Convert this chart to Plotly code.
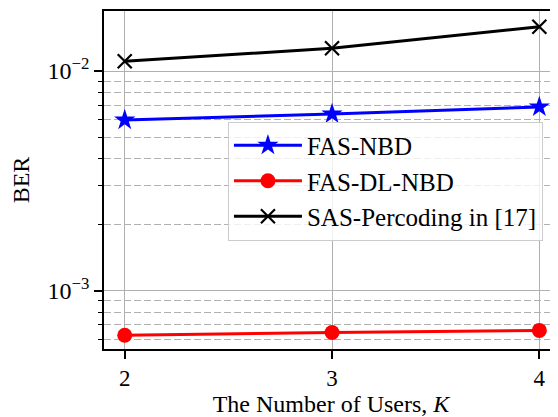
import plotly.graph_objects as go

users = [2, 3, 4]
fas_nbd = [0.00598, 0.00637, 0.00686]
fas_dl_nbd = [0.000627, 0.000646, 0.00066]
sas_precoding = [0.01107, 0.01269, 0.0159]
names = ["FAS-NBD", "FAS-DL-NBD", "SAS-Percoding in [17]"]

major_y = [1e-3, 1e-2]
major_y_text = ["10<sup>−3</sup>", "10<sup>−2</sup>"]
minor_y = [6e-4, 7e-4, 8e-4, 9e-4, 2e-3, 3e-3, 4e-3, 5e-3, 6e-3, 7e-3, 8e-3, 9e-3]

FONT = "Liberation Serif"

fig = go.Figure()
fig.add_trace(go.Scatter(x=users, y=fas_nbd, name=names[0], mode="lines+markers",
                         line=dict(color="#0000ff", width=3),
                         marker=dict(symbol="star", size=16, color="#0000ff")))
fig.add_trace(go.Scatter(x=users, y=fas_dl_nbd, name=names[1], mode="lines+markers",
                         line=dict(color="#ff0000", width=3),
                         marker=dict(symbol="circle", size=15, color="#ff0000")))
fig.add_trace(go.Scatter(x=users, y=sas_precoding, name=names[2], mode="lines+markers",
                         line=dict(color="#000000", width=3),
                         marker=dict(symbol="x-thin", size=14, color="#000000",
                                     line=dict(color="#000000", width=2.2))))

# the page body adds an 8px offset; margins compensate for it
fig.update_layout(
    width=558, height=417,
    margin=dict(l=96, r=8, t=3, b=76, autoexpand=False),
    paper_bgcolor="white", plot_bgcolor="white",
    font=dict(family=FONT, size=22, color="black"),
    showlegend=True,
    legend=dict(x=0.273, y=0.673, xanchor="left", yanchor="top",
                bgcolor="rgba(255,255,255,0.8)", bordercolor="#cccccc", borderwidth=1,
                font=dict(family=FONT, size=25, color="black"),
                itemwidth=68, tracegroupgap=0),
)
fig.update_xaxes(
    range=[1.9, 4.09], tickvals=users, ticktext=[str(u) for u in users],
    automargin=False,
    showgrid=True, gridcolor="#b0b0b0", gridwidth=1.3,
    showline=True, linecolor="black", linewidth=1.5, mirror=True,
    ticks="outside", ticklen=8, tickwidth=1.5, tickcolor="black",
    tickfont=dict(family=FONT, size=23, color="black"),
    title=dict(text="The Number of Users, <i>K</i>", font=dict(family=FONT, size=24, color="black"), standoff=5),
    zeroline=False,
)
fig.update_yaxes(
    type="log", range=[-3.265, -1.727],
    tickvals=major_y, ticktext=major_y_text,
    automargin=False,
    showgrid=True, gridcolor="#b0b0b0", gridwidth=1.3,
    showline=True, linecolor="black", linewidth=1.5, mirror=False,
    ticks="outside", ticklen=8, tickwidth=1.5, tickcolor="black",
    tickfont=dict(family=FONT, size=24, color="black"),
    minor=dict(tickvals=minor_y, ticks="outside", ticklen=4, tickwidth=1.2, tickcolor="black",
               showgrid=True, gridcolor="#b0b0b0", gridwidth=1.3, griddash="7px,3px"),
    title=dict(text="BER", font=dict(family=FONT, size=24, color="black"), standoff=17),
    zeroline=False,
)

fig.write_html("out.html")
